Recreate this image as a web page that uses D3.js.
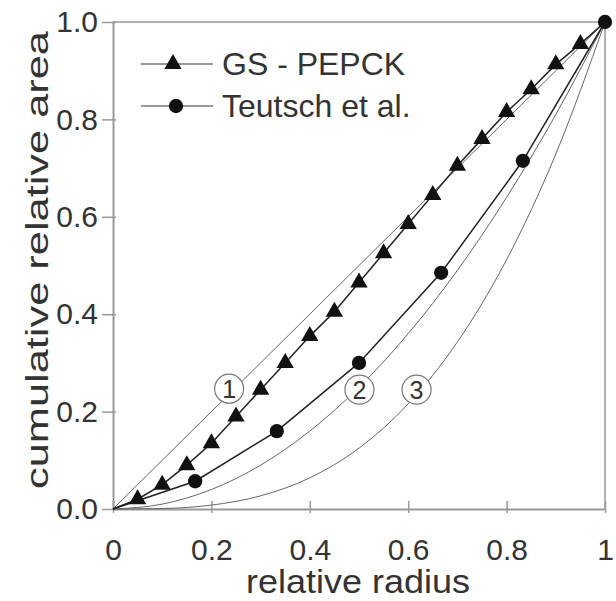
<!DOCTYPE html>
<html>
<head>
<meta charset="utf-8">
<script src="https://cdn.jsdelivr.net/npm/d3@7"></script>
<style>
  body { margin: 0; background: #fff; }
  text { font-family: "Liberation Sans", Arial, sans-serif; fill: #333; }
</style>
</head>
<body>
<div id="chart"></div>
<script>
// Data
var gsX = [0, 0.05, 0.10, 0.15, 0.20, 0.25, 0.30, 0.35, 0.40, 0.45, 0.50, 0.55, 0.60, 0.65, 0.70, 0.75, 0.80, 0.85, 0.90, 0.95, 1.0];
var gsY = [0, 0.02, 0.05, 0.09, 0.135, 0.19, 0.245, 0.30, 0.355, 0.405, 0.465, 0.525, 0.585, 0.645, 0.705, 0.76, 0.815, 0.862, 0.913, 0.955, 1.0];

var teutschX = [0, 0.167, 0.333, 0.5, 0.667, 0.833, 1.0];
var teutschY = [0, 0.057, 0.16, 0.30, 0.485, 0.715, 1.0];

// reference curves 1, 2, 3
var refX = [0, 0.1, 0.2, 0.3, 0.4, 0.5, 0.6, 0.7, 0.8, 0.9, 1.0];
var ref1Y = [0, 0.1, 0.2, 0.3, 0.4, 0.5, 0.6, 0.7, 0.8, 0.9, 1.0];
var ref2Y = [0, 0.01, 0.04, 0.09, 0.16, 0.25, 0.36, 0.49, 0.64, 0.81, 1.0];
var ref3Y = [0, 0.001, 0.008, 0.027, 0.064, 0.125, 0.216, 0.343, 0.512, 0.729, 1.0];

// circled curve labels
var labelNames = ["1", "2", "3"];
var labelX = [0.236, 0.501, 0.617];
var labelY = [0.247, 0.245, 0.245];

var xTicks = [0, 0.2, 0.4, 0.6, 0.8, 1];
var yTicks = [0, 0.2, 0.4, 0.6, 0.8, 1.0];
var seriesNames = ["GS - PEPCK", "Teutsch et al."];

//Define margins and size
var margin = { top: 22, right: 11, bottom: 92, left: 113 };
var width = 616, height = 601;
var innerW = width - margin.left - margin.right;
var innerH = height - margin.top - margin.bottom;

var svg = d3.select("#chart").append("svg").attr("width", width).attr("height", height);
var g = svg.append("g").attr("transform", "translate(" + margin.left + "," + margin.top + ")");

var xScale = d3.scaleLinear().domain([0, 1]).range([0, innerW]);
var yScale = d3.scaleLinear().domain([0, 1]).range([innerH, 0]);

var axisColor = "#999";

// frame: top and right
g.append("line").attr("x1", 0).attr("x2", innerW).attr("y1", 0).attr("y2", 0)
  .attr("stroke", axisColor).attr("stroke-width", 1.5);
g.append("line").attr("x1", innerW).attr("x2", innerW).attr("y1", 0).attr("y2", innerH)
  .attr("stroke", axisColor).attr("stroke-width", 1.5);

// x axis
var xAxis = g.append("g")
  .attr("transform", "translate(0," + innerH + ")")
  .call(d3.axisBottom(xScale).tickValues(xTicks).tickSize(0).tickPadding(30)
    .tickFormat(function(d) { return d === 0 ? "0" : d === 1 ? "1" : d3.format(".1f")(d); }));
xAxis.select(".domain").attr("stroke", axisColor).attr("stroke-width", 2);
xAxis.selectAll(".tick line").remove();
xAxis.selectAll(".tick").append("line")
  .attr("y1", -8).attr("y2", 4).attr("stroke", axisColor).attr("stroke-width", 1.5);
xAxis.selectAll(".tick text").attr("font-size", 30).attr("fill", "#333")
  .attr("font-family", "Liberation Sans, Arial, sans-serif");

// y axis
var yAxis = g.append("g")
  .call(d3.axisLeft(yScale).tickValues(yTicks).tickSize(0).tickPadding(15)
    .tickFormat(d3.format(".1f")));
yAxis.select(".domain").attr("stroke", axisColor).attr("stroke-width", 2);
yAxis.selectAll(".tick line").remove();
yAxis.selectAll(".tick").append("line")
  .attr("x1", -11).attr("x2", 3).attr("stroke", axisColor).attr("stroke-width", 1.5);
yAxis.selectAll(".tick text").attr("font-size", 30).attr("fill", "#333")
  .attr("font-family", "Liberation Sans, Arial, sans-serif");

// axis titles
svg.append("text")
  .attr("x", 358).attr("y", 593)
  .attr("text-anchor", "middle")
  .attr("font-size", 33)
  .attr("textLength", 224).attr("lengthAdjust", "spacingAndGlyphs")
  .text("relative radius");

svg.append("text")
  .attr("transform", "translate(48,260) rotate(-90)")
  .attr("text-anchor", "middle")
  .attr("font-size", 31)
  .attr("textLength", 458).attr("lengthAdjust", "spacingAndGlyphs")
  .text("cumulative relative area");

// reference curves
var refLine = d3.line()
  .x(function(d) { return xScale(d[0]); })
  .y(function(d) { return yScale(d[1]); })
  .curve(d3.curveMonotoneX);

[ref1Y, ref2Y, ref3Y].forEach(function(ys) {
  g.append("path")
    .datum(refX.map(function(x, i) { return [x, ys[i]]; }))
    .attr("fill", "none")
    .attr("stroke", "#666")
    .attr("stroke-width", 1)
    .attr("d", refLine);
});

// circled labels
labelNames.forEach(function(name, i) {
  var cx = xScale(labelX[i]), cy = yScale(labelY[i]);
  g.append("circle").attr("cx", cx).attr("cy", cy).attr("r", 14.5)
    .attr("fill", "#fff").attr("stroke", "#777").attr("stroke-width", 1.2);
  g.append("text").attr("x", cx).attr("y", cy + 9)
    .attr("text-anchor", "middle").attr("font-size", 25).attr("fill", "#555")
    .text(name);
});

// data lines
var dataLine = d3.line()
  .x(function(d) { return xScale(d[0]); })
  .y(function(d) { return yScale(d[1]); });

var gsData = gsX.map(function(x, i) { return [x, gsY[i]]; });
var teutschData = teutschX.map(function(x, i) { return [x, teutschY[i]]; });

g.append("path").datum(gsData)
  .attr("fill", "none").attr("stroke", "#222").attr("stroke-width", 1.5)
  .attr("d", dataLine);
g.append("path").datum(teutschData)
  .attr("fill", "none").attr("stroke", "#222").attr("stroke-width", 1.5)
  .attr("d", dataLine);

var tri = d3.symbol().type(d3.symbolTriangle).size(130);
var dot = d3.symbol().type(d3.symbolCircle).size(160);

g.selectAll(".tri").data(gsData.slice(1, gsData.length - 1)).enter()
  .append("path").attr("class", "tri")
  .attr("transform", function(d) { return "translate(" + xScale(d[0]) + "," + yScale(d[1]) + ")"; })
  .attr("d", tri).attr("fill", "#111");

g.selectAll(".dot").data(teutschData.slice(1)).enter()
  .append("path").attr("class", "dot")
  .attr("transform", function(d) { return "translate(" + xScale(d[0]) + "," + yScale(d[1]) + ")"; })
  .attr("d", dot).attr("fill", "#111");

// legend
var legend = svg.append("g");
var legendY = [64, 106];
seriesNames.forEach(function(name, i) {
  legend.append("line").attr("x1", 141).attr("x2", 213)
    .attr("y1", legendY[i]).attr("y2", legendY[i])
    .attr("stroke", "#333").attr("stroke-width", 1.2);
  legend.append("path")
    .attr("transform", "translate(" + (i === 0 ? 173 : 176) + "," + legendY[i] + ")")
    .attr("d", i === 0 ? tri : dot).attr("fill", "#111");
  legend.append("text").attr("x", 222).attr("y", legendY[i] + 11)
    .attr("font-size", 32).text(name);
});
</script>
</body>
</html>
